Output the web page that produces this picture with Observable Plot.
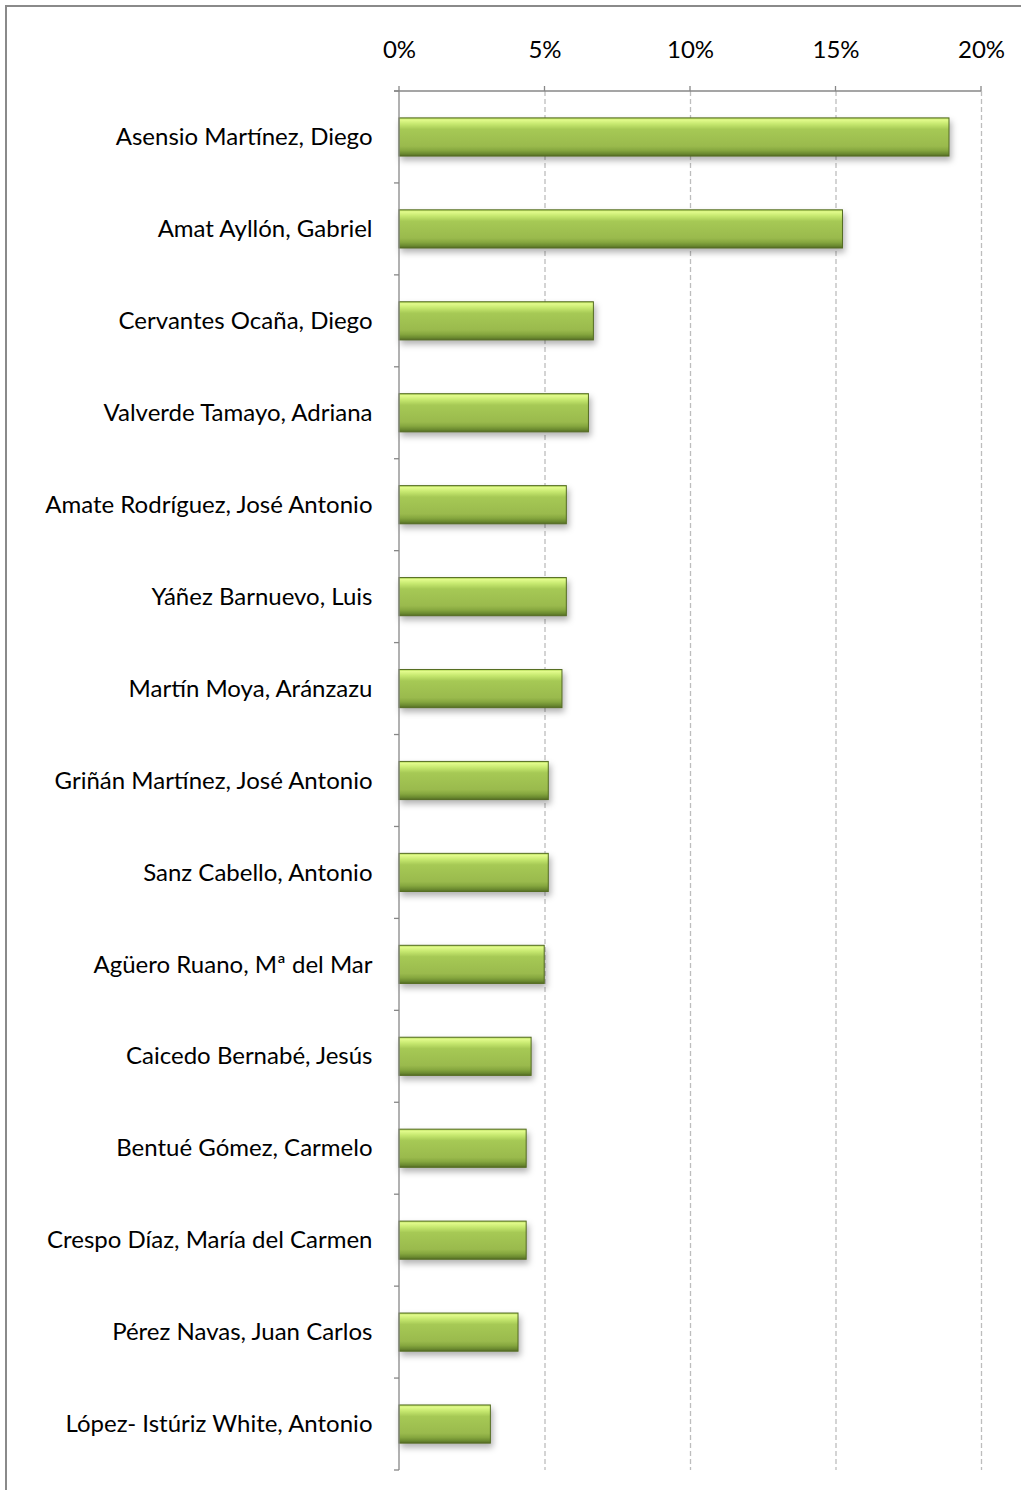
<!DOCTYPE html>
<html>
<head>
<meta charset="utf-8">
<script src="https://cdn.jsdelivr.net/npm/d3@7"></script>
<script src="https://cdn.jsdelivr.net/npm/@observablehq/plot@0.6"></script>
<style>
  html, body { margin: 0; padding: 0; background: #fff; overflow: hidden; }
  #wrap { position: relative; width: 1021px; height: 1490px; overflow: hidden; }
  #frame { position: absolute; left: 5px; top: 5px; width: 1100px; height: 1600px; border: 2px solid #8a8a8a; pointer-events: none; box-sizing: border-box; }
  #chart svg { display: block; }
  .bars rect { filter: drop-shadow(2px 4px 3px rgba(0,0,0,0.3)); }
</style>
</head>
<body>
<div id="wrap">
  <div id="chart"></div>
  <div id="frame"></div>
</div>
<script>
const names = [
  "Asensio Martínez, Diego",
  "Amat Ayllón, Gabriel",
  "Cervantes Ocaña, Diego",
  "Valverde Tamayo, Adriana",
  "Amate Rodríguez, José Antonio",
  "Yáñez Barnuevo, Luis",
  "Martín Moya, Aránzazu",
  "Griñán Martínez, José Antonio",
  "Sanz Cabello, Antonio",
  "Agüero Ruano, Mª del Mar",
  "Caicedo Bernabé, Jesús",
  "Bentué Gómez, Carmelo",
  "Crespo Díaz, María del Carmen",
  "Pérez Navas, Juan Carlos",
  "López- Istúriz White, Antonio"
];
const values = [18.9, 15.24, 6.68, 6.51, 5.75, 5.75, 5.6, 5.13, 5.13, 4.99, 4.54, 4.37, 4.37, 4.09, 3.14];
const xTicks = [0, 5, 10, 15, 20];
const gridTicks = [5, 10, 15, 20];

const data = names.map((name, i) => ({name, value: values[i]}));
const NS = "http://www.w3.org/2000/svg";

function el(tag, attrs) {
  const e = document.createElementNS(NS, tag);
  for (const k in attrs) e.setAttribute(k, attrs[k]);
  return e;
}

// gradient definitions
function defs() {
  const d = el("defs", {});
  const g = el("linearGradient", {id: "barGrad", x1: "0", y1: "0", x2: "0", y2: "1"});
  [["0", "#a9d04f"], ["0.05", "#e2fb8c"], ["0.16", "#c6e86f"], ["0.3", "#a6c955"],
   ["0.74", "#9aba4d"], ["0.85", "#86a73f"], ["0.94", "#6b8a30"], ["1", "#546b24"]]
    .forEach(([o, c]) => g.appendChild(el("stop", {offset: o, "stop-color": c})));
  d.appendChild(g);
  return d;
}

// axis lines and category boundary ticks
function axes(index, scales, values, dimensions) {
  const g = el("g", {stroke: "#878787", "stroke-width": 1.3, fill: "none"});
  const x = scales.x, y = scales.y;
  const x0 = x(0), x1 = x(20);
  const top = dimensions.marginTop, bottom = dimensions.height - dimensions.marginBottom;
  g.appendChild(el("line", {x1: x0 - 5, x2: x1, y1: top, y2: top}));
  g.appendChild(el("line", {x1: x0, x2: x0, y1: top, y2: bottom}));
  const step = (bottom - top) / names.length;
  for (let i = 0; i <= names.length; i++) {
    const yy = (i < names.length ? y(names[i]) + y.bandwidth() / 2 - step / 2 : y(names[names.length - 1]) + y.bandwidth() / 2 + step / 2);
    g.appendChild(el("line", {x1: x0 - 5, x2: x0, y1: yy, y2: yy}));
  }
  xTicks.forEach(t => g.appendChild(el("line", {x1: x(t), x2: x(t), y1: top - 5, y2: top})));
  return g;
}

const plot = Plot.plot({
  width: 1021,
  height: 1490,
  marginTop: 91,
  marginBottom: 20,
  marginLeft: 399,
  marginRight: 40,
  style: {fontFamily: "Lato, 'Open Sans', sans-serif", fontSize: "24px", color: "#000", background: "transparent"},
  x: {domain: [0, 20], label: null},
  y: {domain: names, paddingInner: 0.585, paddingOuter: 0.2925, round: false, label: null},
  marks: [
    () => defs(),
    Plot.gridX(gridTicks, {stroke: "#bdbdbd", strokeOpacity: 1, strokeWidth: 1.3, strokeDasharray: "5,3"}),
    Plot.barX(data, {x: "value", y: "name", fill: "url(#barGrad)", stroke: "#556d22", strokeWidth: 1, className: "bars"}),
    axes,
    Plot.axisX(xTicks, {anchor: "top", label: null, tickSize: 0, tickPadding: 34, tickFormat: d => d + "%", fontSize: 24, fill: "#000"}),
    Plot.axisY({label: null, tickSize: 0, tickPadding: 27, fontSize: 24, fill: "#000"})
  ]
});
document.getElementById("chart").appendChild(plot);
</script>
</body>
</html>
